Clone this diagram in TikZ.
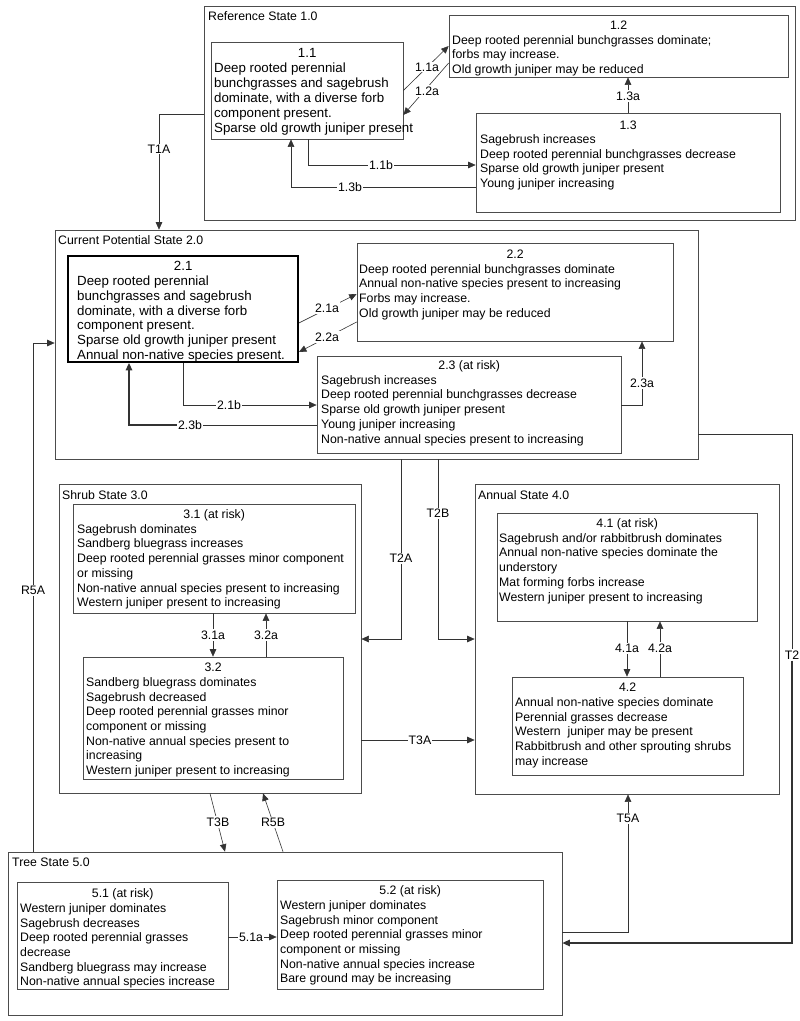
\documentclass[tikz,border=0pt]{standalone}
\usepackage{fontspec}
\setmainfont{Liberation Sans}
\usetikzlibrary{arrows.meta,fit}
\newcommand\myfs[2]{\fontsize{#1}{#2}\selectfont}
\newcommand\ttl[2]{\makebox[#1pt]{\strut #2}}
\begin{document}
\begin{tikzpicture}[x=1pt,y=-1pt]
\tikzset{
 box/.style={draw=black!70,line width=0.7pt,inner sep=0pt},
 txt/.style={inner sep=0pt,anchor=north west,align=left,font=\myfs{12.3}{14.7}},
 ctl/.style={inner sep=0pt,anchor=west,font=\myfs{12.3}{14.7}},
 lbl/.style={fill=white,inner sep=1.2pt,font=\myfs{12.3}{14.7}},
 conn/.style={draw=black!80,line width=0.6pt},
 arr/.style={conn,-{Triangle[length=7.5pt,width=6.5pt]}},
}
\fill[white] (0,0) rectangle (800,1021);
\useasboundingbox (0,0) rectangle (800,1021);

% ---------- state containers ----------
\node[box,fit={(204,6) (795,220)}] (ref) {};
\node[box,fit={(55,230) (698,459)}] (cp) {};
\node[box,fit={(59,484) (361,793)}] (shrub) {};
\node[box,fit={(475,484) (779,794)}] (annual) {};
\node[box,fit={(8,852) (562,1015)}] (tree) {};

\node[ctl] (refl) at (208,16) {Reference State 1.0};
\node[ctl] (cpl) at (58,240) {Current Potential State 2.0};
\node[ctl] (shrubl) at (62,495) {Shrub State 3.0};
\node[ctl] (annuall) at (478,495) {Annual State 4.0};
\node[ctl] (treel) at (12,862) {Tree State 5.0};

% ---------- community phase boxes ----------
\node[box,fit={(211,42) (403,139)}] (b11) {};
\node[txt,font=\myfs{13.3}{15}] (t11) at (214,46.3) {\ttl{186}{1.1}\\Deep rooted perennial\\bunchgrasses and sagebrush\\dominate, with a diverse forb\\component present.\\Sparse old growth juniper present};

\node[box,fit={(449,15) (788,77)}] (b12) {};
\node[txt] (t12) at (452,19.1) {\ttl{333}{1.2}\\Deep rooted perennial bunchgrasses dominate;\\forbs may increase.\\Old growth juniper may be reduced};

\node[box,fit={(476,113) (780,212)}] (b13) {};
\node[txt,font=\myfs{12.3}{14.5}] (t13) at (480,119.1) {\ttl{296}{1.3}\\Sagebrush increases\\Deep rooted perennial bunchgrasses decrease\\Sparse old growth juniper present\\Young juniper increasing};

\node[draw=black,line width=1.8pt,inner sep=0pt,fit={(68,256) (298,362)}] (b21) {};
\node[txt,font=\myfs{13.3}{14.7}] (t21) at (77,260.5) {\ttl{212}{2.1}\\Deep rooted perennial\\bunchgrasses and sagebrush\\dominate, with a diverse forb\\component present.\\Sparse old growth juniper present\\Annual non-native species present.};

\node[box,fit={(357,243) (673,341)}] (b22) {};
\node[txt] (t22) at (359,248.1) {\ttl{312}{2.2}\\Deep rooted perennial bunchgrasses dominate\\Annual non-native species present to increasing\\Forbs may increase.\\Old growth juniper may be reduced};

\node[box,fit={(317,356) (621,453)}] (b23) {};
\node[txt] (t23) at (321,359.1) {\ttl{296}{2.3 (at risk)}\\Sagebrush increases\\Deep rooted perennial bunchgrasses decrease\\Sparse old growth juniper present\\Young juniper increasing\\Non-native annual species present to increasing};

\node[box,fit={(73,504) (355,613)}] (b31) {};
\node[txt] (t31) at (77,508.1) {\ttl{274}{3.1 (at risk)}\\Sagebrush dominates\\Sandberg bluegrass increases\\Deep rooted perennial grasses minor component\\or missing\\Non-native annual species present to increasing\\Western juniper present to increasing};

\node[box,fit={(83,657) (343,779)}] (b32) {};
\node[txt] (t32) at (86,661.1) {\ttl{254}{3.2}\\Sandberg bluegrass dominates\\Sagebrush decreased\\Deep rooted perennial grasses minor\\component or missing\\Non-native annual species present to\\increasing\\Western juniper present to increasing};

\node[box,fit={(497,513) (757,621)}] (b41) {};
\node[txt] (t41) at (499,517.1) {\ttl{256}{4.1 (at risk)}\\Sagebrush and/or rabbitbrush dominates\\Annual non-native species dominate the\\understory\\Mat forming forbs increase\\Western juniper present to increasing};

\node[box,fit={(512,677) (743,775)}] (b42) {};
\node[txt] (t42) at (515,681.1) {\ttl{225}{4.2}\\Annual non-native species dominate\\Perennial grasses decrease\\Western\ \ juniper may be present\\Rabbitbrush and other sprouting shrubs\\may increase};

\node[box,fit={(17,882) (228,989)}] (b51) {};
\node[txt] (t51) at (20,887.1) {\ttl{205}{5.1 (at risk)}\\Western juniper dominates\\Sagebrush decreases\\Deep rooted perennial grasses\\decrease\\Sandberg bluegrass may increase\\Non-native annual species increase};

\node[box,fit={(277,880) (543,989)}] (b52) {};
\node[txt] (t52) at (280,884.1) {\ttl{260}{5.2 (at risk)}\\Western juniper dominates\\Sagebrush minor component\\Deep rooted perennial grasses minor\\component or missing\\Non-native annual species increase\\Bare ground may be increasing};

% ---------- guide coordinates ----------
\coordinate (gT1A) at (159,114);
\coordinate (g12s) at (450,63);
\coordinate (g12e) at (404,115);
\coordinate (g11b) at (308,165);
\coordinate (g13b) at (291,187);
\coordinate (g13a) at (628,0);
\coordinate (g21s) at (0,323);
\coordinate (g21e) at (0,294);
\coordinate (g22s) at (0,322);
\coordinate (g22e) at (0,352);
\coordinate (g21b) at (183,405);
\coordinate (g23b) at (129,425);
\coordinate (g23a) at (642,405);
\coordinate (gT2) at (792,434);
\coordinate (gT2e) at (0,943);
\coordinate (gT2A) at (401,639);
\coordinate (gT2B) at (438,639);
\coordinate (gT3A) at (0,740);
\coordinate (gT3Bs) at (210,0);
\coordinate (gT3Be) at (225,0);
\coordinate (gR5Bs) at (283,0);
\coordinate (gR5Be) at (263,0);
\coordinate (gR5A) at (33,343);
\coordinate (gT5A) at (628,932);
\coordinate (g31a) at (213,0);
\coordinate (g32a) at (266,0);
\coordinate (g41a) at (627,0);
\coordinate (g42a) at (660,0);
\coordinate (g51a) at (0,937);

% ---------- split connectors (label first) ----------
\node[lbl] (lT2) at (792,655) {T2};
\draw[conn,line width=0.8pt] (cp.east |- gT2) -| (lT2.north);
\draw[arr,line width=1.3pt] (lT2.south) |- (tree.east |- gT2e);

\node[lbl] (l23b) at (190,425) {2.3b};
\draw[conn] (b23.west |- g23b) -- (l23b.east);
\draw[arr,line width=1.5pt] (l23b.west) -| (b21.south -| g23b);

% ---------- connectors ----------
\draw[arr] (ref.west |- gT1A) -| (cp.north -| gT1A);
\draw[arr] (b11.east) -- (b12.west);
\draw[arr] (b12.west |- g12s) -- (b11.east |- g12e);
\draw[arr] (b11.south -| g11b) |- (b13.west |- g11b);
\draw[arr] (b13.west |- g13b) -| (b11.south -| g13b);
\draw[arr] (b13.north -| g13a) -- (b12.south -| g13a);

\draw[arr] (b21.east |- g21s) -- (b22.west |- g21e);
\draw[arr] (b22.west |- g22s) -- (b21.east |- g22e);
\draw[arr] (b21.south -| g21b) |- (b23.west |- g21b);
\draw[arr] (b23.east |- g23a) -| (b22.south -| g23a);

\draw[arr] (cp.south -| gT2A) |- (shrub.east |- gT2A);
\draw[arr] (cp.south -| gT2B) |- (annual.west |- gT2B);
\draw[arr] (shrub.east |- gT3A) -- (annual.west |- gT3A);
\draw[arr] (shrub.south -| gT3Bs) -- (tree.north -| gT3Be);
\draw[arr] (tree.north -| gR5Bs) -- (shrub.south -| gR5Be);
\draw[arr] (tree.north -| gR5A) |- (cp.west |- gR5A);
\draw[arr] (tree.east |- gT5A) -| (annual.south -| gT5A);

\draw[arr] (b31.south -| g31a) -- (b32.north -| g31a);
\draw[arr] (b32.north -| g32a) -- (b31.south -| g32a);
\draw[arr] (b41.south -| g41a) -- (b42.north -| g41a);
\draw[arr] (b42.north -| g42a) -- (b41.south -| g42a);
\draw[arr] (b51.east |- g51a) -- (b52.west |- g51a);

% ---------- connector labels ----------
\node[lbl] (lT1A) at (159,149) {T1A};
\node[lbl] (l11a) at (427,67) {1.1a};
\node[lbl] (l12a) at (427,91) {1.2a};
\node[lbl] (l11b) at (381,165) {1.1b};
\node[lbl] (l13b) at (350,187) {1.3b};
\node[lbl] (l13a) at (628,96) {1.3a};
\node[lbl] (l21a) at (327,308) {2.1a};
\node[lbl] (l22a) at (327,337) {2.2a};
\node[lbl] (l21b) at (229,405) {2.1b};
\node[lbl] (l23a) at (642,383) {2.3a};
\node[lbl] (lT2A) at (401,558) {T2A};
\node[lbl] (lT2B) at (438,513) {T2B};
\node[lbl] (lT3A) at (420,740) {T3A};
\node[lbl] (lT3B) at (218,822) {T3B};
\node[lbl] (lR5B) at (273,822) {R5B};
\node[lbl] (lR5A) at (33,590) {R5A};
\node[lbl] (lT5A) at (628,818) {T5A};
\node[lbl] (l31a) at (213,635) {3.1a};
\node[lbl] (l32a) at (266,635) {3.2a};
\node[lbl] (l41a) at (627,648) {4.1a};
\node[lbl] (l42a) at (660,648) {4.2a};
\node[lbl] (l51a) at (251,937) {5.1a};
\end{tikzpicture}
\end{document}
